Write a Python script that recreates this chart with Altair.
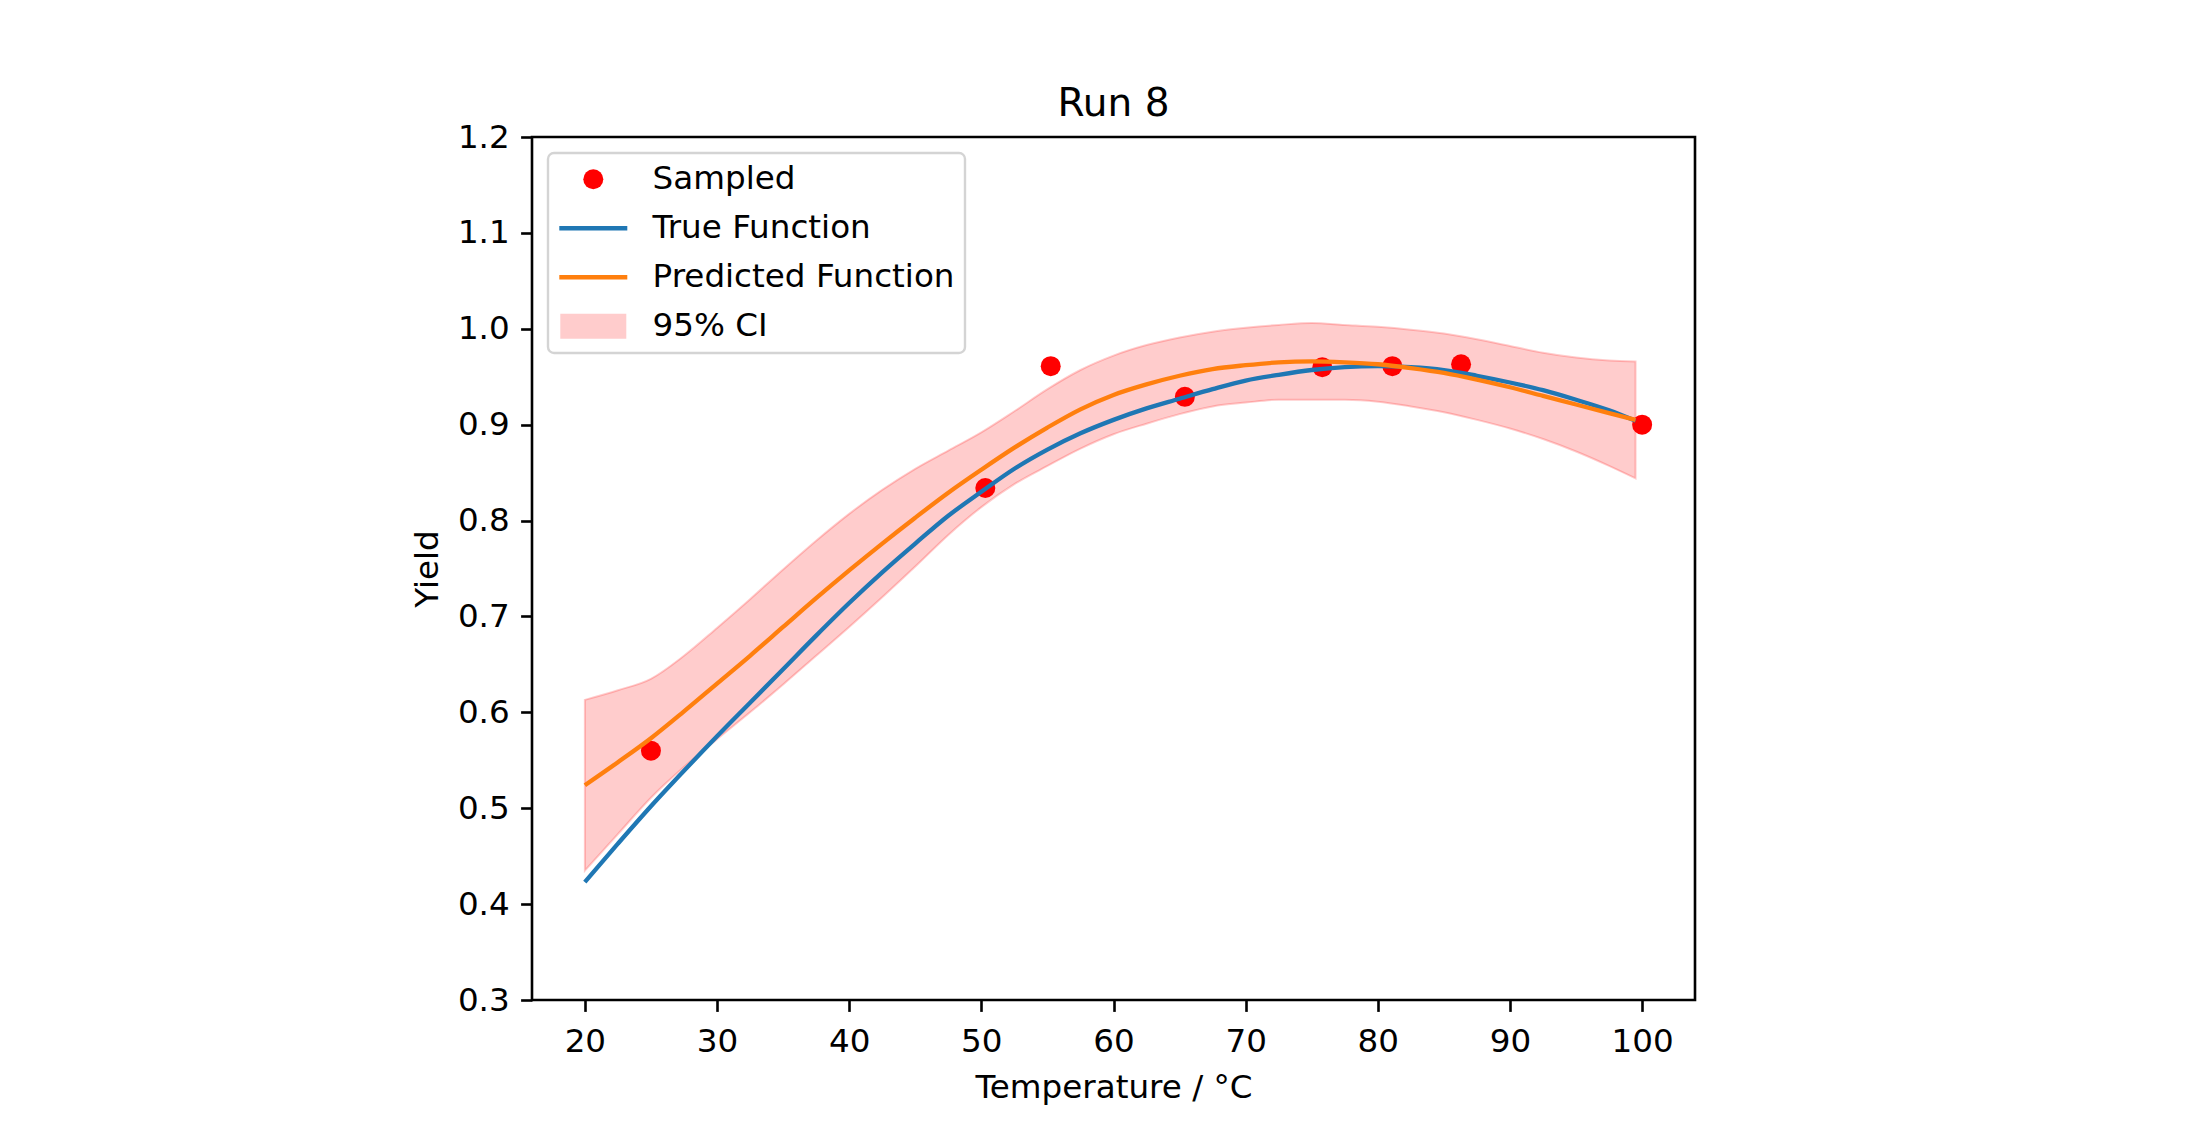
import altair as alt
import pandas as pd

# ---- data ----
temps = [20, 22.5, 25, 27.5, 30, 32.5, 35, 37.5, 40, 42.5, 45, 47.5, 50, 52.5,
         55, 57.5, 60, 62.5, 65, 67.5, 70, 72.5, 75, 77.5, 80, 82.5, 85, 87.5,
         90, 92.5, 95, 97.5, 99.5]
true_vals = [0.423, 0.463, 0.502, 0.539, 0.575, 0.610, 0.645, 0.680, 0.714, 0.746,
             0.776, 0.805, 0.830, 0.854, 0.874, 0.891, 0.905, 0.917, 0.927, 0.937,
             0.946, 0.952, 0.957, 0.960, 0.961, 0.960, 0.957, 0.951, 0.944, 0.936,
             0.926, 0.915, 0.904]
pred_vals = [0.524, 0.548, 0.573, 0.601, 0.630, 0.659, 0.689, 0.719, 0.748, 0.776,
             0.803, 0.829, 0.853, 0.876, 0.897, 0.916, 0.931, 0.942, 0.951, 0.958,
             0.962, 0.965, 0.966, 0.965, 0.963, 0.959, 0.954, 0.947, 0.939, 0.930,
             0.921, 0.912, 0.905]
ci_upper = [0.613, 0.623, 0.635, 0.659, 0.688, 0.718, 0.749, 0.779, 0.807, 0.832,
            0.854, 0.873, 0.892, 0.914, 0.937, 0.957, 0.972, 0.983, 0.991, 0.997,
            1.001, 1.004, 1.006, 1.004, 1.002, 0.999, 0.995, 0.989, 0.982, 0.975,
            0.970, 0.967, 0.966]
ci_lower = [0.435, 0.473, 0.511, 0.543, 0.572, 0.600, 0.629, 0.659, 0.689, 0.720,
            0.752, 0.785, 0.814, 0.838, 0.857, 0.875, 0.890, 0.901, 0.911, 0.919,
            0.923, 0.926, 0.926, 0.926, 0.924, 0.919, 0.913, 0.905, 0.896, 0.885,
            0.872, 0.857, 0.844]
sample_t = [25.0, 50.3, 55.25, 65.4, 75.8, 81.1, 86.3, 100.0]
sample_y = [0.560, 0.834, 0.961, 0.929, 0.960, 0.961, 0.963, 0.900]

legend_labels = ["Sampled", "True Function", "Predicted Function", "95% CI"]
legend_colors = ["#ff0000", "#1f77b4", "#ff7f0e", "#ffcccc"]
legend_shapes = ["circle",
                 "M-3.4,-0.22H3.4V0.22H-3.4Z",
                 "M-3.4,-0.22H3.4V0.22H-3.4Z",
                 "M-3.3,-1.25H3.3V1.25H-3.3Z"]
x_ticks = [20, 30, 40, 50, 60, 70, 80, 90, 100]
y_ticks = [0.3, 0.4, 0.5, 0.6, 0.7, 0.8, 0.9, 1.0, 1.1, 1.2]

FONT = "DejaVu Sans"

curve_df = pd.DataFrame({"T": temps, "true": true_vals, "pred": pred_vals,
                         "upper": ci_upper, "lower": ci_lower})
pts_df = pd.DataFrame({"T": sample_t, "Y": sample_y, "series": ["Sampled"] * len(sample_t)})

xenc = alt.X("T:Q", scale=alt.Scale(domain=[16, 104], nice=False, zero=False),
             axis=alt.Axis(values=x_ticks, format="d", title="Temperature / °C", grid=False,
                           labelPadding=14))
yscale = alt.Scale(domain=[0.3, 1.2], nice=False, zero=False)
yaxis = alt.Axis(values=y_ticks, format=".1f", title="Yield", grid=False)

base = alt.Chart(curve_df)

band = base.mark_area(fill="#ff0000", fillOpacity=0.2, stroke="#ff0000",
                      strokeOpacity=0.2, strokeWidth=2, interpolate="monotone").encode(
    x=xenc,
    y=alt.Y("lower:Q", scale=yscale, axis=yaxis),
    y2="upper:Q",
)

leg = alt.Legend(title=None, orient="none", legendX=16, legendY=16, padding=10,
                 rowPadding=16, labelOffset=43, symbolOffset=19, symbolSize=400,
                 labelFont=FONT, labelFontSize=32.6, labelColor="black", labelLimit=800,
                 fillColor="white", strokeColor="#d4d4d4", cornerRadius=6,
                 symbolStrokeWidth=0, symbolOpacity=1)

points = alt.Chart(pts_df).mark_point(filled=True, opacity=1).encode(
    x=xenc,
    y=alt.Y("Y:Q", scale=yscale, axis=yaxis),
    color=alt.Color("series:N", scale=alt.Scale(domain=legend_labels, range=legend_colors), legend=leg),
    shape=alt.Shape("series:N", scale=alt.Scale(domain=legend_labels, range=legend_shapes), legend=leg),
    size=alt.value(400),
)

true_line = base.mark_line(color="#1f77b4", strokeWidth=4.3, interpolate="monotone").encode(
    x=xenc, y=alt.Y("true:Q", scale=yscale, axis=yaxis))
pred_line = base.mark_line(color="#ff7f0e", strokeWidth=4.3, interpolate="monotone").encode(
    x=xenc, y=alt.Y("pred:Q", scale=yscale, axis=yaxis))

chart = alt.layer(band, points, true_line, pred_line).properties(
    width=1163,
    height=863,
    autosize=alt.AutoSizeParams(type="none"),
    padding={"left": 524, "top": 129, "right": 485, "bottom": 115},
    background="white",
    title=alt.TitleParams("Run 8", font=FONT, fontSize=39, fontWeight="normal",
                          color="black", offset=20, anchor="middle", frame="group",
                          baseline="alphabetic", dy=54),
).configure_axis(
    domain=False, labelFont=FONT, labelFontSize=32.6, labelColor="black",
    tickColor="black", tickWidth=2.6, tickSize=11.4, labelPadding=11.4,
    titleFont=FONT, titleFontSize=32.6, titleFontWeight="normal", titleColor="black",
    titlePadding=13,
).configure_view(
    stroke="black", strokeWidth=2.6,
).configure_legend(
    strokeWidth=2.4,
)

chart.save("out.html", embed_options={"renderer": "svg", "actions": False})
